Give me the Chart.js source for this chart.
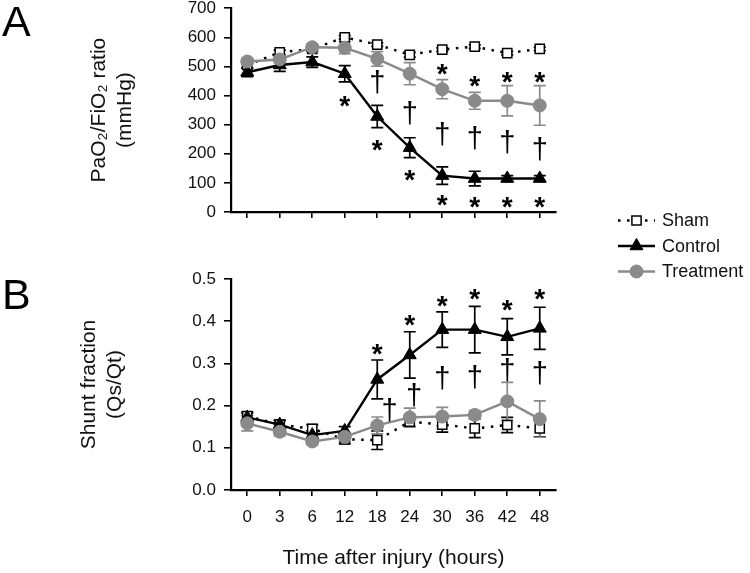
<!DOCTYPE html>
<html>
<head>
<meta charset="utf-8">
<script src="https://cdn.jsdelivr.net/npm/chart.js@4.4.1/dist/chart.umd.min.js"></script>
<style>
  html, body { margin: 0; padding: 0; background: #fff; }
  #wrap { position: relative; width: 750px; height: 573px; overflow: hidden; font-family: 'Liberation Sans', Arial, sans-serif; }
  .letter { position: absolute; left: 2px; font-size: 43px; line-height: 42px; color: #000; }
  #chartA { position: absolute; left: 0; top: -10px; width: 750px; height: 290px; }
  #chartB { position: absolute; left: 0; top: 240px; width: 750px; height: 333px; }
</style>
</head>
<body>
<div id="wrap">
  <canvas id="chartA" width="750" height="290"></canvas>
  <canvas id="chartB" width="750" height="333"></canvas>
  <div class="letter" style="top:0px">A</div>
  <div class="letter" style="top:273px">B</div>
</div>
<script>
// time points (hours)
const hours = ['0', '3', '6', '12', '18', '24', '30', '36', '42', '48'];

// A: PaO2/FiO2 ratio (mmHg), mean and error
const shamA = [505, 548, 560, 600, 575, 540, 558, 568, 546, 560];
const shamAErr = [10, 8, 8, 6, 6, 8, 6, 6, 6, 6];
const controlA = [480, 505, 515, 475, 328, 221, 125, 115, 115, 115];
const controlAErr = [15, 22, 18, 28, 38, 34, 30, 25, 10, 10];
const treatmentA = [517, 524, 566, 564, 526, 475, 422, 382, 382, 366];
const treatmentAErr = [12, 12, 10, 20, 25, 38, 33, 29, 52, 68];

// B: shunt fraction (Qs/Qt)
const shamB = [0.175, 0.155, 0.145, 0.12, 0.118, 0.162, 0.155, 0.146, 0.154, 0.146];
const shamBErr = [0.01, 0.01, 0.01, 0.01, 0.022, 0.012, 0.018, 0.022, 0.018, 0.02];
const controlB = [0.172, 0.155, 0.13, 0.14, 0.262, 0.32, 0.38, 0.38, 0.363, 0.383];
const controlBErr = [0.01, 0.01, 0.01, 0.01, 0.046, 0.055, 0.042, 0.055, 0.043, 0.05];
const treatmentB = [0.158, 0.138, 0.115, 0.126, 0.153, 0.172, 0.174, 0.178, 0.21, 0.168];
const treatmentBErr = [0.018, 0.01, 0.008, 0.01, 0.02, 0.022, 0.022, 0.01, 0.045, 0.043];

// significance marks: [category index, value, symbol]
const marksA = [
  [3, 379, '*'], [4, 447, '†'], [4, 230, '*'], [5, 339, '†'], [5, 125, '*'],
  [6, 488, '*'], [6, 267, '†'], [6, 40, '*'], [7, 447, '*'], [7, 255, '†'], [7, 34, '*'],
  [8, 461, '*'], [8, 241, '†'], [8, 34, '*'], [9, 461, '*'], [9, 215, '†'], [9, 34, '*']
];
const marksB = [
  [4, 0.333, '*'], [4.38, 0.19, '†'], [5, 0.401, '*'], [5.13, 0.225, '†'],
  [6, 0.446, '*'], [6, 0.265, '†'], [7, 0.464, '*'], [7, 0.267, '†'],
  [8, 0.438, '*'], [8, 0.284, '†'], [9, 0.464, '*'], [9, 0.277, '†']
];

const seriesNames = ['Sham', 'Control', 'Treatment'];
const yTicksA = { min: 0, max: 700, step: 100 };
const yTicksB = { min: 0, max: 0.5, step: 0.1 };

const FONT = "'Liberation Sans', Arial, sans-serif";
const GRAY = '#8a8a8a';

// draws the vertical error bars under the markers
const errorBars = {
  id: 'errorBars',
  beforeDatasetsDraw(chart) {
    const ctx = chart.ctx;
    const y = chart.scales.y;
    chart.data.datasets.forEach((ds, i) => {
      if (!ds.errors) return;
      const meta = chart.getDatasetMeta(i);
      ctx.save();
      ctx.strokeStyle = ds.borderColor;
      ctx.lineWidth = 1.7;
      meta.data.forEach((pt, j) => {
        const e = ds.errors[j];
        const top = y.getPixelForValue(ds.data[j] + e);
        const bot = y.getPixelForValue(ds.data[j] - e);
        ctx.beginPath();
        ctx.moveTo(pt.x, top); ctx.lineTo(pt.x, bot);
        ctx.moveTo(pt.x - 6, top); ctx.lineTo(pt.x + 6, top);
        ctx.moveTo(pt.x - 6, bot); ctx.lineTo(pt.x + 6, bot);
        ctx.stroke();
      });
      ctx.restore();
    });
  }
};

// * and † marks
const sigMarks = {
  id: 'sigMarks',
  afterDatasetsDraw(chart, args, opts) {
    const ctx = chart.ctx;
    const xs = chart.scales.x, ys = chart.scales.y;
    ctx.save();
    ctx.fillStyle = '#000';
    ctx.textAlign = 'center';
    ctx.textBaseline = 'alphabetic';
    opts.marks.forEach(([xi, v, s]) => {
      ctx.font = (s === '*' ? 'bold 28px ' : '29px ') + FONT;
      const m = ctx.measureText(s);
      const px = xs.getPixelForValue(xi);
      const py = ys.getPixelForValue(v);
      ctx.fillText(s, px, py + (m.actualBoundingBoxAscent - m.actualBoundingBoxDescent) / 2);
    });
    ctx.restore();
  }
};

// shared legend, drawn on panel A's canvas
const sideLegend = {
  id: 'sideLegend',
  afterDraw(chart, args, opts) {
    if (!opts.show) return;
    const ctx = chart.ctx;
    const rows = [230.5, 256, 281.5];
    chart.data.datasets.forEach((ds, i) => {
      const yy = rows[i];
      ctx.save();
      ctx.strokeStyle = ds.borderColor;
      ctx.lineWidth = ds.borderWidth;
      ctx.setLineDash(ds.borderDash || []);
      ctx.beginPath();
      ctx.moveTo(618, yy); ctx.lineTo(655, yy);
      ctx.stroke();
      ctx.setLineDash([]);
      ctx.fillStyle = ds.pointBackgroundColor;
      ctx.strokeStyle = ds.pointBorderColor;
      ctx.lineWidth = ds.pointBorderWidth;
      Chart.helpers.drawPoint(ctx, { pointStyle: ds.pointStyle, radius: ds.pointRadius, borderWidth: ds.pointBorderWidth, rotation: 0 }, 636.5, yy);
      ctx.fillStyle = '#111';
      ctx.font = '18px ' + FONT;
      ctx.textAlign = 'left';
      ctx.textBaseline = 'middle';
      ctx.fillText(ds.label, 662, yy + 1);
      ctx.restore();
    });
  }
};

function makeSets(sham, shamErr, control, controlErr, treat, treatErr) {
  return [
    { label: seriesNames[0], data: sham, errors: shamErr, order: 2,
      borderColor: '#000', borderWidth: 2.5, borderDash: [2.5, 6.5],
      pointStyle: 'rect', pointRadius: 6.5, pointBackgroundColor: '#fff', pointBorderColor: '#000', pointBorderWidth: 1.5 },
    { label: seriesNames[1], data: control, errors: controlErr, order: 1,
      borderColor: '#000', borderWidth: 2.4,
      pointStyle: 'triangle', pointRadius: 7.5, pointBackgroundColor: '#000', pointBorderColor: '#000', pointBorderWidth: 1 },
    { label: seriesNames[2], data: treat, errors: treatErr, order: 0,
      borderColor: GRAY, borderWidth: 2.4,
      pointStyle: 'circle', pointRadius: 6.5, pointBackgroundColor: GRAY, pointBorderColor: GRAY, pointBorderWidth: 1 }
  ];
}

function panelOptions(cfg) {
  return {
    responsive: false,
    animation: false,
    layout: { padding: { top: cfg.padTop, right: 194, bottom: 0, left: 0 } },
    plugins: {
      legend: { display: false },
      tooltip: { enabled: false },
      sigMarks: { marks: cfg.marks },
      sideLegend: { show: cfg.legend }
    },
    scales: {
      x: {
        type: 'category',
        offset: true,
        grid: { drawOnChartArea: false, drawTicks: true, tickLength: 6, color: '#000', lineWidth: 1.6 },
        border: { display: true, color: '#000', width: 2.2 },
        ticks: { display: cfg.xLabels, color: '#111', font: { family: FONT, size: 17 }, padding: 11, maxRotation: 0, autoSkip: false },
        title: { display: !!cfg.xTitle, text: cfg.xTitle || '', color: '#111', font: { family: FONT, size: 21 }, padding: { top: 4, bottom: 2 } },
        afterFit: s => { s.height = cfg.xHeight; }
      },
      y: {
        min: cfg.yTicks.min, max: cfg.yTicks.max,
        ticks: { stepSize: cfg.yTicks.step, color: '#111', font: { family: FONT, size: 17 }, padding: 8, callback: cfg.fmt },
        grid: { drawOnChartArea: false, drawTicks: true, tickLength: 7, color: '#000', lineWidth: 1.6 },
        border: { display: true, color: '#000', width: 2.2 },
        title: { display: true, text: cfg.yTitle, color: '#111', font: { family: FONT, size: 21 }, padding: { top: cfg.titlePad, bottom: 0 } },
        afterFit: s => { s.width = 231; }
      }
    }
  };
}

new Chart(document.getElementById('chartA'), {
  type: 'line',
  data: { labels: hours, datasets: makeSets(shamA, shamAErr, controlA, controlAErr, treatmentA, treatmentAErr) },
  options: panelOptions({
    padTop: 16, xHeight: 68, xLabels: false, marks: marksA, legend: true,
    yTicks: yTicksA, fmt: v => v,
    yTitle: ['PaO₂/FiO₂ ratio', '(mmHg)'], titlePad: 87
  }),
  plugins: [errorBars, sigMarks, sideLegend]
});

new Chart(document.getElementById('chartB'), {
  type: 'line',
  data: { labels: hours, datasets: makeSets(shamB, shamBErr, controlB, controlBErr, treatmentB, treatmentBErr) },
  options: panelOptions({
    padTop: 39, xHeight: 83, xLabels: true, xTitle: 'Time after injury (hours)', marks: marksB, legend: false,
    yTicks: yTicksB, fmt: v => Number(v).toFixed(1),
    yTitle: ['Shunt fraction', '(Qs/Qt)'], titlePad: 77
  }),
  plugins: [errorBars, sigMarks, sideLegend]
});
</script>
</body>
</html>
